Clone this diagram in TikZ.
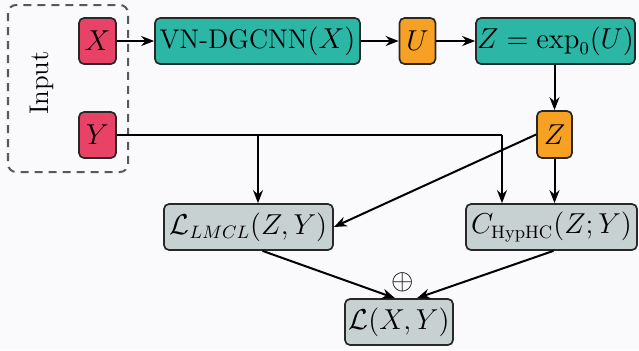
\documentclass[tikz,border=0pt]{standalone}
\usetikzlibrary{arrows.meta,calc}
\definecolor{bg}{RGB}{250,250,253}
\definecolor{cred}{RGB}{232,66,102}
\definecolor{cteal}{RGB}{44,182,166}
\definecolor{corange}{RGB}{246,161,36}
\definecolor{cgray}{RGB}{200,209,209}
\definecolor{edge}{RGB}{40,40,40}
\begin{document}
\begin{tikzpicture}[x=0.5pt,y=-0.5pt,
  font=\fontsize{13.5}{15}\selectfont,
  box/.style={draw=edge,line width=0.85pt,rounded corners=2.5pt,minimum height=23pt,inner sep=0pt,text=black},
  inbox/.style={box,fill=cred,minimum width=18.5pt},
  tealbox/.style={box,fill=cteal},
  orbox/.style={box,fill=corange,minimum width=18pt},
  graybox/.style={box,fill=cgray},
  conn/.style={line width=1pt,draw=black},
  arr/.style={conn,-{Stealth[length=6.5pt,width=5pt]}}]
\fill[bg] (0,0) rectangle (639,350);
\useasboundingbox (0,0) rectangle (639,350);
\draw[line width=1pt,draw=black!65,rounded corners=4pt,dash pattern=on 4pt off 3pt] (8,5) rectangle (128,172);
\node[rotate=90,anchor=west] (inp) at (42,122) {Input};
\node[inbox] (X) at (97.5,41) {$X$};
\node[inbox] (Y) at (97.5,135) {$Y$};
\node[tealbox,minimum width=102.5pt] (VN) at (257.5,41) {VN-DGCNN$(X)$};
\node[orbox] (U) at (417.5,41) {$U$};
\node[tealbox,minimum width=79.5pt] (Ze) at (555.5,41) {$Z=\exp_0(U)$};
\node[orbox,minimum width=17.5pt,minimum height=23.5pt] (Z) at (554.5,134.5) {$Z$};
\node[graybox,minimum width=84.5pt] (L) at (248.5,227) {$\mathcal{L}_{LMCL}(Z,Y)$};
\node[graybox,minimum width=85.5pt] (C) at (551.5,227) {$C_{\mathrm{HypHC}}(Z;Y)$};
\node[graybox,minimum width=54pt] (LXY) at (399,322) {$\mathcal{L}(X,Y)$};
\node (op) at (403,282) {$\oplus$};
\coordinate (yb) at (258,135);
\coordinate (yc) at (502,135);
\draw[arr] (X) -- (VN);
\draw[arr] (VN) -- (U);
\draw[arr] (U) -- (Ze);
\draw[arr] (Z.north |- Ze.south) -- (Z.north);
\draw[conn] (Y.east) -- (yc);
\draw[arr] (yc) -- (yc |- C.north);
\draw[arr] (yb) -- (yb |- L.north);
\draw[arr] (Z.west) -- (L.east);
\draw[arr] (Z.south) -- (Z.south |- C.north);
\draw[arr] ([xshift=7pt]L.south) -- ([xshift=-2pt]LXY.north);
\draw[arr] ([xshift=1pt]C.south) -- ([xshift=9pt]LXY.north);
\end{tikzpicture}
\end{document}
